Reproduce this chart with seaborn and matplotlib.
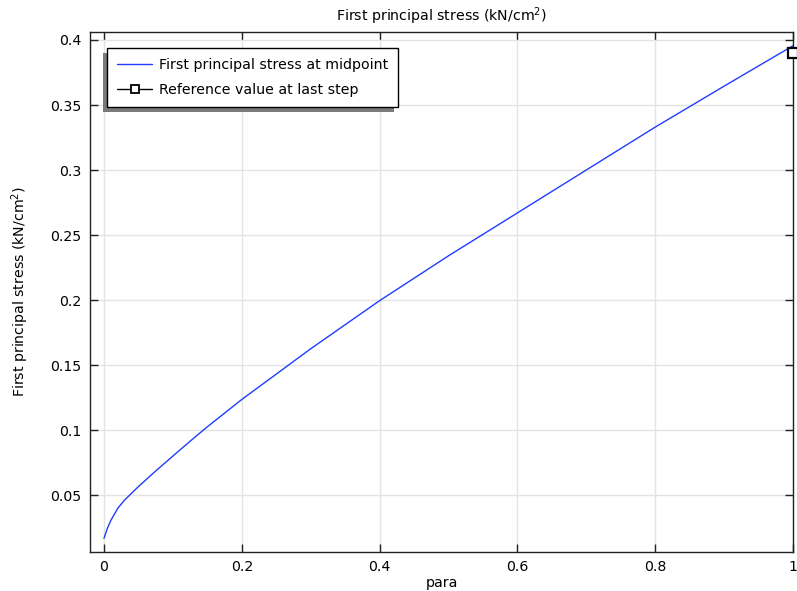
import numpy as np
import pandas as pd
import seaborn as sns
import matplotlib.pyplot as plt
from matplotlib.patches import Rectangle
from matplotlib.lines import Line2D

# ---- data ----
para = [0.0, 0.005, 0.01, 0.02, 0.03, 0.05, 0.075, 0.1, 0.127, 0.15, 0.2,
        0.3, 0.4, 0.5, 0.6, 0.7, 0.8, 0.9, 1.0]
stress = [0.0167, 0.0245, 0.0305, 0.0398, 0.0462, 0.0565, 0.0685, 0.0800, 0.0923, 0.1025, 0.1235,
          0.1625, 0.1995, 0.2340, 0.2670, 0.3000, 0.3330, 0.3645, 0.3956]
ref_para = [1.0]
ref_value = [0.39]

xticks = [0, 0.2, 0.4, 0.6, 0.8, 1]
xticklabels = ["0", "0.2", "0.4", "0.6", "0.8", "1"]
yticks = [0.05, 0.1, 0.15, 0.2, 0.25, 0.3, 0.35, 0.4]
yticklabels = ["0.05", "0.1", "0.15", "0.2", "0.25", "0.3", "0.35", "0.4"]

title = "First principal stress (kN/cm$^2$)"
xlabel = "para"
ylabel = "First principal stress (kN/cm$^2$)"
label_curve = "First principal stress at midpoint"
label_ref = "Reference value at last step"

sns.set_theme(style="white")
plt.rcParams['font.family'] = ['DejaVu Sans']
plt.rcParams['mathtext.fontset'] = 'dejavusans'
plt.rcParams['text.color'] = 'black'

FS = 10.2

fig = plt.figure(figsize=(7.97, 5.91), dpi=100)
ax = fig.add_axes([0.1129, 0.066, 0.8821, 0.8804])

blue = "#1f3cff"
df = pd.DataFrame({"para": para, "stress": stress})
sns.lineplot(data=df, x="para", y="stress", color=blue, lw=1.0, ax=ax, legend=False)

dref = pd.DataFrame({"para": ref_para, "stress": ref_value})
sns.lineplot(data=dref, x="para", y="stress", color="black", marker="s", markersize=7,
             markerfacecolor="white", markeredgecolor="black", markeredgewidth=1.6,
             ax=ax, legend=False)
for ln in ax.lines[1:]:
    ln.set_clip_on(False)
    ln.set_zorder(6)

ax.set_xlim(-0.0203, 1.0)
ax.set_ylim(0.0062, 0.4064)
ax.set_xticks(xticks)
ax.set_xticklabels(xticklabels)
ax.set_yticks(yticks)
ax.set_yticklabels(yticklabels)
ax.grid(True, color="#e3e3e3", lw=1.0)
ax.set_axisbelow(True)

ax.tick_params(direction="in", length=6, width=1.0, color="#222222",
               top=True, right=True, bottom=True, left=True, labelsize=FS,
               labelcolor="black", pad=6)
for s in ax.spines.values():
    s.set_visible(True)
    s.set_color("#222222")
    s.set_linewidth(1.0)

ax.set_title(title, fontsize=FS, pad=8, color="black")
ax.set_xlabel(xlabel, fontsize=FS, labelpad=1, color="black")
ax.set_ylabel(ylabel, fontsize=FS, labelpad=14, color="black")

handles = [Line2D([], [], color=blue, lw=1.0),
           Line2D([], [], color="black", lw=1.0, marker="s", markersize=6,
                  markerfacecolor="white", markeredgecolor="black", markeredgewidth=1.3)]
leg = ax.legend(handles, [label_curve, label_ref], loc="upper left",
                bbox_to_anchor=(0.0242, 0.9686), borderaxespad=0, fancybox=False,
                framealpha=1, edgecolor="black", fontsize=FS, handlelength=2.5,
                handletextpad=0.45, borderpad=0.7, labelspacing=0.8, labelcolor="black")
leg.get_frame().set_linewidth(1.0)
leg.set_zorder(5)

fig.canvas.draw()
bb = leg.get_frame().get_window_extent()
inv = ax.transAxes.inverted()
(x0, y0) = inv.transform((bb.x0 - 4, bb.y0 - 5))
(x1, y1) = inv.transform((bb.x1 - 4, bb.y1 - 5))
ax.add_patch(Rectangle((x0, y0), x1 - x0, y1 - y0, transform=ax.transAxes,
                       facecolor="#7a7a7a", edgecolor="none", zorder=4.5, clip_on=False))

fig.savefig("out.png", dpi=100)
